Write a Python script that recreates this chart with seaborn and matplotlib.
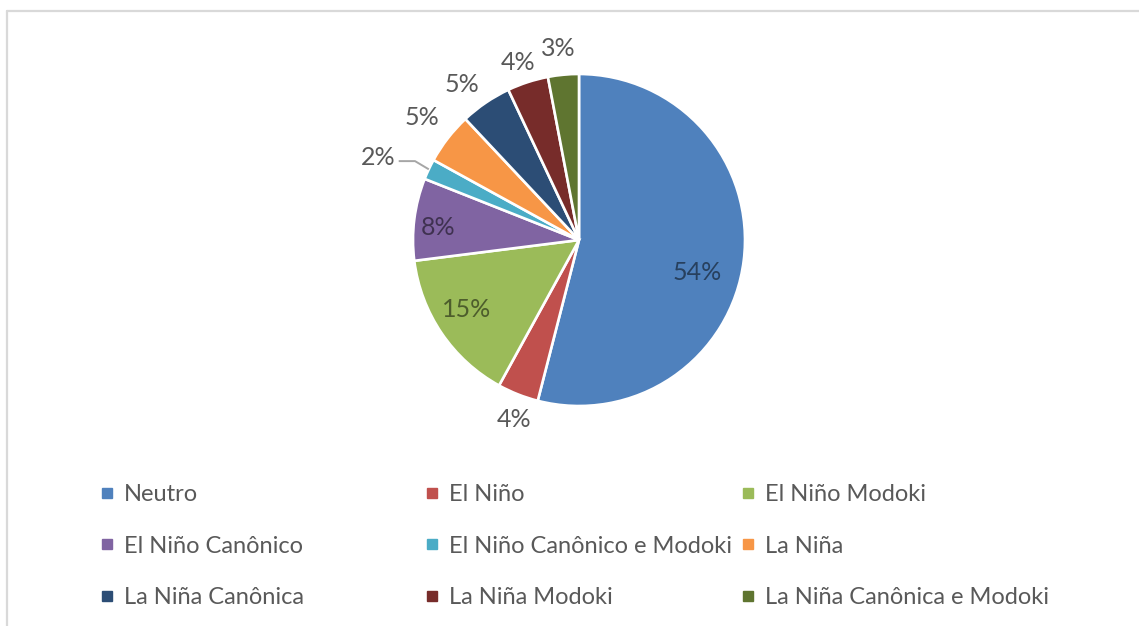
import numpy as np
import matplotlib
matplotlib.use("Agg")
import matplotlib.pyplot as plt
from matplotlib.lines import Line2D
import seaborn as sns

# ---- data ----
categories = ["Neutro", "El Niño", "El Niño Modoki", "El Niño Canônico",
              "El Niño Canônico e Modoki", "La Niña", "La Niña Canônica",
              "La Niña Modoki", "La Niña Canônica e Modoki"]
values = [54, 4, 15, 8, 2, 5, 5, 4, 3]
colors = ["#4F81BD", "#C0504D", "#9BBB59", "#8064A2", "#4BACC6",
          "#F79646", "#2C4D75", "#772C2A", "#5F7530"]

# label placement (style): radial distance and small angular tweak per slice
label_r = [0.74, 1.15, 0.80, 0.85, 1.31, 1.20, 1.17, 1.13, 1.16]
label_dang = [-8, 1.7, -2.4, 2.2, 2.8, 0, 2.7, 0.9, 0.8]

sns.set_theme(style="white")
plt.rcParams["font.family"] = ["Lato", "DejaVu Sans"]
TXT = "#595959"
FS_LEG = 17
FS_LAB = 18

fig = plt.figure(figsize=(11.39, 6.26), dpi=100)
fig.patch.set_facecolor("white")

R = 166.0
W = 230.0
cx, cy = 579.0, 240.0
ax = fig.add_axes([(cx - W) / 1139, 1 - (cy + W) / 626, 2 * W / 1139, 2 * W / 626])
ax.axis("off")

wedges, _ = ax.pie(values, colors=colors, startangle=90, counterclock=False,
                   radius=1.0,
                   wedgeprops=dict(edgecolor="white", linewidth=1.9))
lim = W / R
ax.set_xlim(-lim, lim)
ax.set_ylim(-lim, lim)
ax.set_aspect("equal")

total = float(sum(values))
cum = 0.0
for i, v in enumerate(values):
    mid = 90 - (cum + v / 2) / total * 360
    cum += v
    ang = np.deg2rad(mid + label_dang[i])
    x, y = label_r[i] * np.cos(ang), label_r[i] * np.sin(ang)
    txt = f"{v / total * 100:.0f}%"
    inside = label_r[i] < 1.0
    ax.text(x, y, txt, ha="center", va="center", fontsize=FS_LAB,
            color="black", alpha=0.5 if inside else 0.65)
    if label_r[i] > 1.25:
        # leader line: short horizontal segment from the label, then to the slice edge
        ex, ey = np.cos(np.deg2rad(mid)), np.sin(np.deg2rad(mid))
        y0 = y - 0.024
        ax.plot([x + 0.125, ex - 0.083, ex], [y0, y0, ey],
                color="#A6A6A6", lw=1.4, solid_capstyle="butt", clip_on=False)

# ---- legend: three columns, filled row-wise ----
col_x = [100 / 1139, 425 / 1139, 741 / 1139]
for c in range(3):
    idx = [c, c + 3, c + 6]
    handles = [Line2D([0], [0], marker="s", linestyle="none", markersize=6.5,
                      markerfacecolor=colors[k], markeredgecolor=colors[k]) for k in idx]
    lg = fig.legend(handles, [categories[k] for k in idx], loc="upper left",
                    bbox_to_anchor=(col_x[c], 1 - 484 / 626), frameon=False,
                    fontsize=FS_LEG, handlelength=0.6, handletextpad=0.4,
                    labelspacing=1.3, borderpad=0, borderaxespad=0)
    for t in lg.get_texts():
        t.set_color(TXT)

# chart-area border (partially visible)
fig.add_artist(Line2D([7 / 1139, 1.0], [1 - 11 / 626, 1 - 11 / 626],
                      transform=fig.transFigure, color="#D9D9D9", lw=1.6))
fig.add_artist(Line2D([7 / 1139, 7 / 1139], [0.0, 1 - 11 / 626],
                      transform=fig.transFigure, color="#D9D9D9", lw=1.6))

fig.savefig("out.png", dpi=100, facecolor="white")
